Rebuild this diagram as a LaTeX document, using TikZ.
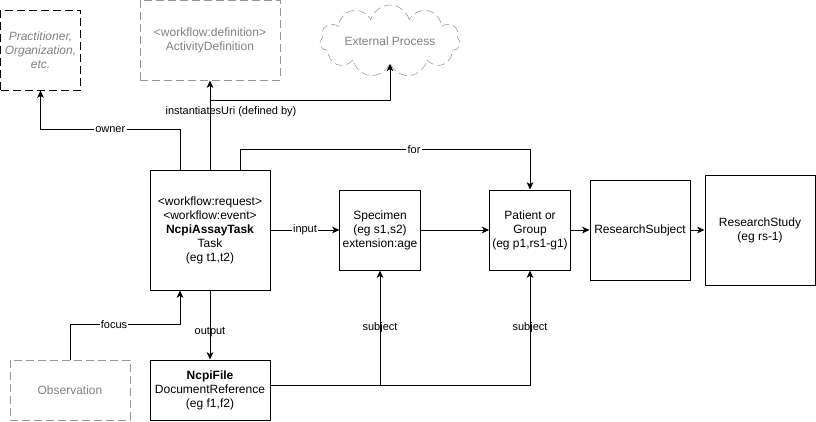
\documentclass[tikz,border=0pt]{standalone}
\usepackage{fontspec}
\setmainfont{Liberation Sans}
\usetikzlibrary{arrows.meta,shapes.symbols}
\definecolor{boxgray}{RGB}{150,150,150}
\definecolor{txtgray}{RGB}{128,128,128}

\begin{document}
\begin{tikzpicture}[x=0.75pt,y=-0.75pt,
	box/.style={draw,line width=0.75pt,align=center,inner sep=2pt,font=\fontsize{9}{10.5}\selectfont},
	dbox/.style={box,dash pattern=on 6pt off 3pt},
	lbl/.style={fill=white,inner sep=1pt,font=\fontsize{8.25}{9}\selectfont},
	tlbl/.style={lbl,fill=none},
	arr/.style={-{Stealth[length=5.5pt,width=5pt,inset=1.5pt]},line width=0.75pt}]
\useasboundingbox (0,0) rectangle (816,421);

% dashed boxes, top row
\node[dbox,minimum width=60pt,minimum height=60pt,text=txtgray,font=\fontsize{9}{10.5}\selectfont\itshape] (prac) at (40.5,50) {Practitioner,\\Organization,\\etc.};
\node[dbox,draw=boxgray,text=txtgray,minimum width=105pt,minimum height=60pt] (actdef) at (210,40) {<workflow:definition>\\ActivityDefinition};
\node[cloud,cloud puffs=11,cloud ignores aspect,draw=boxgray,dash pattern=on 6pt off 3pt,text=txtgray,font=\fontsize{9}{10.5}\selectfont,minimum width=101pt,minimum height=54pt] (ext) at (390,41) {External Process};

% main row
\node[box,minimum width=90pt,minimum height=90pt] (task) at (210,230) {<workflow:request>\\<workflow:event>\\\textbf{NcpiAssayTask}\\Task\\(eg t1,t2)};
\node[box,minimum width=60pt,minimum height=60pt] (spec) at (380,230) {Specimen\\(eg s1,s2)\\extension:age};
\node[box,minimum width=60pt,minimum height=60pt] (pat) at (530,230) {Patient or\\Group\\(eg p1,rs1-g1)};
\node[box,minimum width=75pt,minimum height=75pt] (rsubj) at (640,230) {ResearchSubject};
\node[box,minimum width=82.5pt,minimum height=82.5pt] (rstudy) at (760,230) {ResearchStudy\\(eg rs-1)};

% bottom row
\node[dbox,draw=boxgray,text=txtgray,minimum width=90pt,minimum height=45pt] (obs) at (70,390) {Observation};
\node[box,minimum width=90pt,minimum height=45pt] (file) at (210,390) {\textbf{NcpiFile}\\DocumentReference\\(eg f1,f2)};

\coordinate (br) at (210,100);

\draw[arr] ([xshift=-22.5pt]task.north) -- ++(0,-40) -| node[lbl,pos=0.25] {owner} (prac.south);
\draw[arr] (task.north) -- (actdef.south);
\draw[arr] (br) -| (ext.south);
\node[tlbl] at (231,112) {instantiatesUri (defined by)};
\draw[arr] ([xshift=22.5pt]task.north) -- ++(0,-20) -| node[lbl,pos=0.3] {for} (pat.north);

\draw[arr] (task) -- node[lbl] {input} (spec);
\draw[arr] (spec) -- (pat);
\draw[arr] (pat) -- (rsubj);
\draw[arr] (rsubj) -- (rstudy);

\draw[arr] (obs.north) -- ++(0,-35) -| node[lbl,pos=0.2] {focus} ([xshift=-22.5pt]task.south);
\draw[arr] (task.south) -- node[tlbl,pos=0.6] {output} (file.north);
\draw[arr] ([yshift=3.75pt]file.east) -| node[tlbl,pos=0.75] {subject} (spec.south);
\draw[arr] ([yshift=3.75pt]file.east) -| node[tlbl,pos=0.75] {subject} (pat.south);

\end{tikzpicture}
\end{document}
